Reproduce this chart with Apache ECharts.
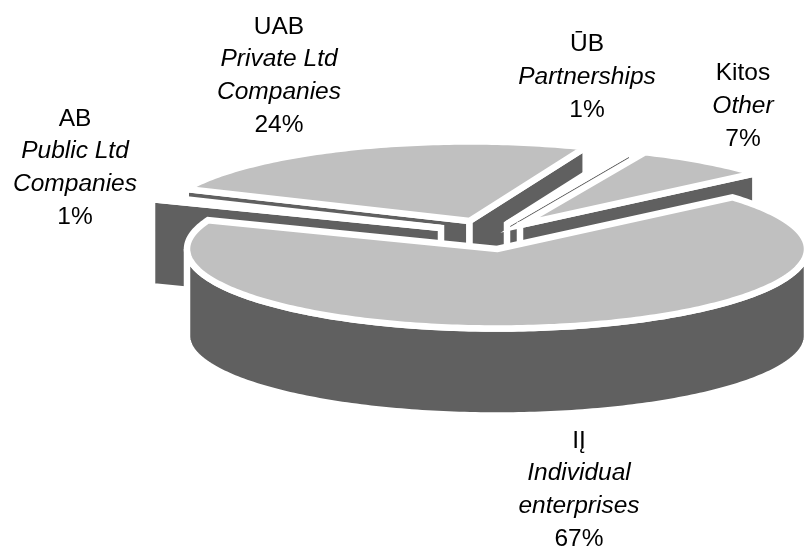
<!DOCTYPE html>
<html lang="en">
<head>
<meta charset="UTF-8">
<title>Pie</title>
<script src="https://cdn.jsdelivr.net/npm/echarts@6/dist/echarts.min.js"></script>
<style>
html,body{margin:0;padding:0;background:#fff}
#chart{width:805px;height:548px}
</style>
</head>
<body>
<div id="chart"></div>
<script>
// data, in the order the slices run clockwise round the pie
// shares are estimated from the slice angles, labels show them rounded
var codes = ['IĮ', 'AB', 'UAB', 'ŪB', 'Kitos'];
var names = [['Individual', 'enterprises'], ['Public Ltd', 'Companies'], ['Private Ltd', 'Companies'], ['Partnerships'], ['Other']];
var shares = [67.1, 0.7, 24.49, 0.5, 7.1];

// back slices first so the front ones paint over them
var drawOrder = [2, 3, 4, 1, 0];

// pie geometry
var cx = 497, cy = 249, rx = 310, ry = 79.5, depth = 87;
var firstAngle = 49.4;
var explodeX = [0, -56, -27.5, 10, 23];
var explodeY = [0, -21, -28, -25, -24];
var labelX = [579, 75, 279, 587, 743];
var labelY = [490, 168, 76, 77, 106];

var total = shares.reduce(function (a, b) { return a + b }, 0);
var startAngles = [], a0 = firstAngle;
shares.forEach(function (v) {
    startAngles.push(a0);
    a0 += v / total * 360;
});

var rad = Math.PI / 180;
function rimPoint(ox, oy, deg) {
    return [ox + rx * Math.sin(deg * rad), oy - ry * Math.cos(deg * rad)];
}
function arcPoints(ox, oy, from, to) {
    var pts = [], n = Math.max(2, Math.ceil((to - from) / 1));
    for (var k = 0; k <= n; k++) pts.push(rimPoint(ox, oy, from + (to - from) * k / n));
    return pts;
}
function shape(points, fill) {
    return {
        type: 'polygon',
        shape: { points: points },
        style: { fill: fill, stroke: '#fff', lineWidth: 6.5, lineJoin: 'miter' }
    };
}
function face(ox, oy, deg) {
    var p = rimPoint(ox, oy, deg);
    return shape([[ox, oy], p, [p[0], p[1] + depth], [ox, oy + depth]], '#606060');
}

function renderSlice(params, api) {
    var i = api.value(0);
    var s = startAngles[i], e = s + api.value(1) / total * 360;
    var ox = cx + explodeX[i], oy = cy + explodeY[i];
    var kids = [];
    // outer wall, only the part on the near side of the pie
    var from = Math.max(s, 90), to = Math.min(e, 270);
    if (to > from) {
        var top = arcPoints(ox, oy, from, to);
        var bottom = top.map(function (p) { return [p[0], p[1] + depth] }).reverse();
        kids.push(shape(top.concat(bottom), '#606060'));
    }
    // cut faces, only those turned towards the viewer
    if (Math.cos((s - 90) * rad) < 0) kids.push(face(ox, oy, s));
    if (Math.cos((e + 90) * rad) < 0) kids.push(face(ox, oy, e));
    // top of the slice
    kids.push(shape([[ox, oy]].concat(arcPoints(ox, oy, s, e)), '#C0C0C0'));
    // label
    var lines = ['{r|' + codes[i] + '}'];
    names[i].forEach(function (n) { lines.push('{i|' + n + '}') });
    lines.push('{r|' + Math.round(shares[i]) + '%}');
    kids.push({
        type: 'text',
        z2: 100,
        x: labelX[i],
        y: labelY[i],
        style: {
            text: lines.join('\n'),
            align: 'center',
            verticalAlign: 'middle',
            fill: '#000',
            rich: {
                r: { fontFamily: 'Liberation Sans', fontSize: 24.5, lineHeight: 32.8, fill: '#000', align: 'center' },
                i: { fontFamily: 'Liberation Sans', fontStyle: 'italic', fontSize: 24.5, lineHeight: 32.8, fill: '#000', align: 'center' }
            }
        }
    });
    return { type: 'group', children: kids };
}

var chart = echarts.init(document.getElementById('chart'));
chart.setOption({
    backgroundColor: '#fff',
    animation: false,
    series: [{
        type: 'custom',
        coordinateSystem: 'none',
        renderItem: renderSlice,
        data: drawOrder.map(function (i) { return [i, shares[i]] })
    }]
});
</script>
</body>
</html>
